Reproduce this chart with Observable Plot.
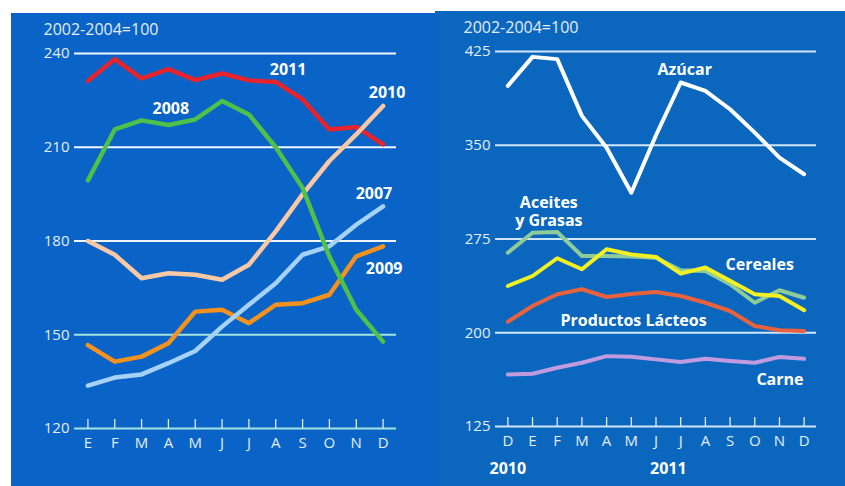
<!DOCTYPE html>
<html>
<head>
<meta charset="utf-8">
<script src="https://cdn.jsdelivr.net/npm/d3@7"></script>
<script src="https://cdn.jsdelivr.net/npm/@observablehq/plot@0.6"></script>
<style>
  html, body { margin: 0; padding: 0; background: #ffffff; width: 845px; height: 486px; overflow: hidden; }
  .panel { position: absolute; }
  #left { left: 11px; top: 13px; width: 424px; height: 473px; background: #0a63c6; }
  #right { left: 435px; top: 11px; width: 410px; height: 475px; background: #0b67be; }
  svg { display: block; }
</style>
</head>
<body>
<div id="left" class="panel"></div>
<div id="right" class="panel"></div>
<script>
// ---------- Left panel data (índice 2002-2004=100) ----------
const monthsLeft = ["E","F","M","A","M","J","J","A","S","O","N","D"];
const ticksLeft = [120, 150, 180, 210, 240];
const y2007 = [133.7,136.3,137.3,140.9,144.8,152.6,159.6,166.5,175.6,178.3,185.2,191.1];
const y2008 = [199.4,215.7,218.6,217.1,218.9,224.8,220.5,210.0,197.0,175.0,158.0,147.8];
const y2009 = [146.7,141.4,143.0,147.3,157.4,158.0,153.7,159.6,160.1,162.8,175.1,178.3];
const y2010 = [180.0,175.6,168.1,169.7,169.2,167.6,172.4,183.1,194.9,205.6,214.1,223.2];
const y2011 = [231.2,238.2,232.0,235.0,231.5,233.6,231.4,230.9,225.3,215.7,216.5,210.9];
const seriesLeftNames = ["2009","2007","2011","2010","2008"];
const seriesLeftValues = [y2009, y2007, y2011, y2010, y2008];
const seriesLeftColors = ["#f5921e","#a6d2f7","#e8232b","#f9c9a6","#4fc04a"];
const labelsLeftText = ["2011","2008","2010","2007","2009"];
const labelsLeftPos = [7.46, 3.09, 11.15, 10.66, 11.04];
const labelsLeftVal = [234.8, 222.6, 227.7, 195.3, 171.2];

// ---------- Right panel data ----------
const monthsRight = ["D","E","F","M","A","M","J","J","A","S","O","N","D"];
const ticksRight = [125, 200, 275, 350, 425];
const azucar   = [397.5,420.7,418.9,373.5,348.0,312.0,358.0,400.2,393.5,378.8,360.1,340.1,326.8];
const aceites  = [264.0,280.0,280.6,261.4,261.4,261.0,260.0,250.0,249.4,238.8,224.0,234.0,228.0];
const cereales = [237.4,245.4,259.6,250.8,266.8,262.7,260.6,247.3,252.2,241.6,230.8,229.4,218.0];
const lacteos  = [208.8,221.4,230.8,234.8,228.6,231.0,232.6,229.4,224.0,217.4,205.4,202.0,201.4];
const carne    = [166.6,167.2,172.0,176.0,181.3,180.8,178.7,176.6,179.2,177.4,176.0,180.6,179.2];
const seriesRightNames = ["Carne","Productos Lácteos","Aceites y Grasas","Cereales","Azúcar"];
const seriesRightValues = [carne, lacteos, aceites, cereales, azucar];
const seriesRightColors = ["#c19be0","#e8623e","#8fcb98","#f2ef22","#ffffff"];
const labelsRightText = ["Azúcar","Aceites\ny Grasas","Cereales","Productos Lácteos","Carne"];
const labelsRightPos = [7.16, 1.66, 10.2, 5.09, 11.02];
const labelsRightVal = [411.1, 297.1, 255.0, 210.2, 163.0];
const yearsRight = ["2010", "2011"];
const yearsRightPos = [0, 6.5];
const unitLabel = "2002-2004=100";

const FONT = "'Open Sans', 'DejaVu Sans', sans-serif";
const TXT = "#e3eefa";

function lineMarks(names, values, colors, width) {
  return names.map((n, k) => Plot.line(values[k].map((v, i) => ({i, v})), {
    x: "i", y: "v", stroke: colors[k], strokeWidth: width,
    strokeLinejoin: "round", strokeLinecap: "round"
  }));
}

function labelMarks(texts, pos, vals) {
  return Plot.text(texts.map((t, k) => ({t, x: pos[k], y: vals[k]})), {
    x: "x", y: "y", text: "t", fill: "#ffffff", fontSize: 16, fontWeight: 700,
    textAnchor: "middle", lineAnchor: "middle", lineHeight: 1.1
  });
}

// ---------- Left chart ----------
const leftIdx = d3.range(monthsLeft.length);
const left = Plot.plot({
  width: 424, height: 473,
  marginLeft: 63, marginRight: 39, marginTop: 40, marginBottom: 58,
  style: {background: "transparent", color: TXT, fontFamily: FONT, fontSize: "15px", overflow: "visible"},
  x: {domain: [-0.5, monthsLeft.length - 0.5], axis: null},
  y: {domain: [120, 240], axis: null},
  marks: [
    Plot.ruleY(ticksLeft.filter(d => d > 150), {stroke: "#f2f7ff", strokeWidth: 2}),
    Plot.ruleY(ticksLeft.filter(d => d <= 150), {stroke: "#a3e4dc", strokeWidth: 2}),
    Plot.axisY({ticks: ticksLeft, tickSize: 0, tickPadding: 5, fill: TXT, fontSize: 15}),
    Plot.ruleX(leftIdx, {x: d => d, insetTop: 366, stroke: "#e3eefa", strokeWidth: 1.3}),
    Plot.axisX({ticks: leftIdx, tickSize: 0, tickPadding: 9, tickFormat: i => monthsLeft[i], fill: TXT, fontSize: 15}),
    ...lineMarks(seriesLeftNames, seriesLeftValues, seriesLeftColors, 4.5),
    labelMarks(labelsLeftText, labelsLeftPos, labelsLeftVal),
    Plot.text([unitLabel], {frameAnchor: "top-left", dx: -31, dy: -24, textAnchor: "start", lineAnchor: "middle", fill: TXT, fontSize: 16})
  ]
});
document.getElementById("left").appendChild(left);

// ---------- Right chart ----------
const rightIdx = d3.range(monthsRight.length);
const right = Plot.plot({
  width: 410, height: 475,
  marginLeft: 60, marginRight: 29, marginTop: 40, marginBottom: 60,
  style: {background: "transparent", color: TXT, fontFamily: FONT, fontSize: "15px", overflow: "visible"},
  x: {domain: [-0.5, monthsRight.length - 0.5], axis: null},
  y: {domain: [125, 425], axis: null},
  marks: [
    Plot.ruleY(ticksRight, {stroke: "#cfe6fb", strokeWidth: 2}),
    Plot.axisY({ticks: ticksRight, tickSize: 0, tickPadding: 5, fill: TXT, fontSize: 15}),
    Plot.ruleX(rightIdx, {x: d => d, insetTop: 366, stroke: "#e3eefa", strokeWidth: 1.3}),
    Plot.axisX({ticks: rightIdx, tickSize: 0, tickPadding: 9, tickFormat: i => monthsRight[i], fill: TXT, fontSize: 15}),
    ...lineMarks(seriesRightNames, seriesRightValues, seriesRightColors, 4),
    labelMarks(labelsRightText, labelsRightPos, labelsRightVal),
    Plot.text(yearsRight.map((t, k) => ({t, x: yearsRightPos[k]})), {
      x: "x", text: "t", frameAnchor: "bottom", dy: 42, fill: "#ffffff",
      fontSize: 16, fontWeight: 700, lineAnchor: "middle"
    }),
    Plot.text([unitLabel], {frameAnchor: "top-left", dx: -32, dy: -24, textAnchor: "start", lineAnchor: "middle", fill: TXT, fontSize: 16})
  ]
});
document.getElementById("right").appendChild(right);
</script>
</body>
</html>
